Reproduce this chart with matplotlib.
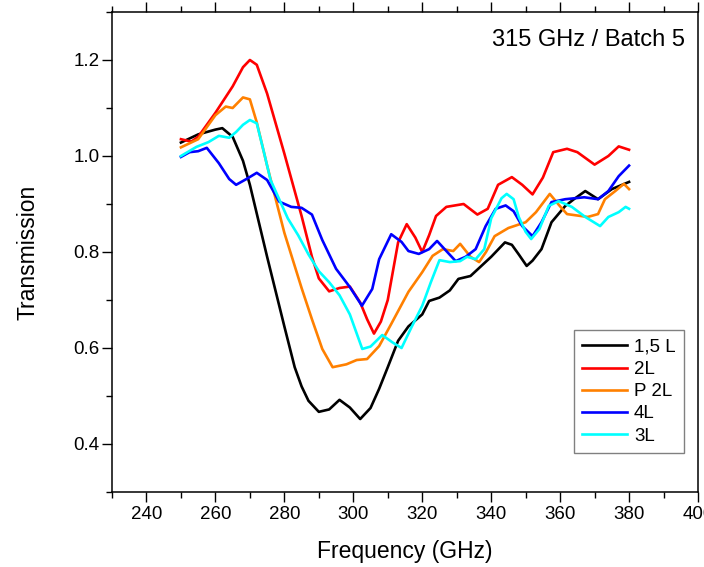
import numpy as np
import matplotlib
matplotlib.use('Agg')
import matplotlib.pyplot as plt
from matplotlib.ticker import MultipleLocator

plt.rcParams['font.family'] = ['Liberation Sans', 'DejaVu Sans']

# 1,5 L
f_15L = [250, 255, 260, 262, 265, 268, 270, 275, 280, 283, 285, 287, 290, 293, 296, 299, 302, 305,
         307.5, 310, 313, 316, 320, 322, 325, 328, 330.5, 334, 337, 340, 344, 346, 348, 350.3,
         352, 354.6, 357.5, 361.5, 364, 367.3, 371, 375, 378, 380]
t_15L = [1.028, 1.045, 1.055, 1.058, 1.040, 0.99, 0.94, 0.79, 0.645, 0.56, 0.52, 0.49, 0.467, 0.472,
         0.492, 0.476, 0.452, 0.475, 0.515, 0.56, 0.615, 0.645, 0.67, 0.698, 0.705, 0.72, 0.744,
         0.75, 0.77, 0.79, 0.82, 0.815, 0.795, 0.771, 0.782, 0.806, 0.862, 0.896, 0.91, 0.927,
         0.91, 0.931, 0.94, 0.946]

# 2L
f_2L = [250, 253, 255, 260, 265, 268, 270, 272, 275, 280, 285, 288, 290, 293, 296, 299, 302, 304,
        306, 308, 310, 313, 315.5, 318, 320, 322, 324, 327, 332, 336, 339, 342, 346, 349, 352,
        355, 358, 362, 365, 370, 374, 377, 380]
t_2L = [1.035, 1.03, 1.04, 1.09, 1.145, 1.185, 1.20, 1.19, 1.13, 1.005, 0.875, 0.79, 0.745, 0.718,
        0.725, 0.728, 0.695, 0.66, 0.63, 0.655, 0.70, 0.82, 0.858, 0.83, 0.80, 0.835, 0.875,
        0.894, 0.90, 0.878, 0.89, 0.94, 0.956, 0.94, 0.92, 0.955, 1.008, 1.015, 1.008, 0.982,
        1.0, 1.02, 1.013]

# P 2L
f_P2L = [250, 255, 260, 263, 265, 268, 270, 272, 275, 280, 285, 288, 291, 294, 298, 301, 304, 307.5,
         311, 316, 320, 323, 326, 329, 331, 334, 336.5, 338.5, 341, 345, 350, 353, 357, 360, 362,
         368, 371, 373, 376, 378.5, 380]
t_P2L = [1.018, 1.035, 1.085, 1.103, 1.10, 1.122, 1.118, 1.07, 0.98, 0.84, 0.725, 0.66, 0.598, 0.56,
         0.566, 0.575, 0.577, 0.604, 0.65, 0.717, 0.758, 0.792, 0.806, 0.802, 0.817, 0.79, 0.779,
         0.80, 0.833, 0.85, 0.862, 0.883, 0.921, 0.895, 0.879, 0.873, 0.879, 0.91, 0.927, 0.942,
         0.931]

# 4L
f_4L = [250, 252.5, 255, 257.5, 261, 264, 266, 269, 272, 275, 278.5, 282, 285, 288, 291, 295, 299,
        302.5, 305.5, 307.5, 311, 314, 316, 319, 322, 324.3, 327, 329.7, 332.6, 335.5, 338.4,
        341.3, 344.2, 346.5, 349, 352, 354.6, 357.5, 361.5, 367, 371, 374, 377, 380]
t_4L = [0.998, 1.008, 1.01, 1.017, 0.985, 0.952, 0.94, 0.952, 0.965, 0.95, 0.905, 0.894, 0.892,
        0.878, 0.825, 0.765, 0.727, 0.688, 0.723, 0.785, 0.837, 0.821, 0.802, 0.796, 0.806, 0.823,
        0.802, 0.781, 0.79, 0.806, 0.854, 0.89, 0.897, 0.885, 0.854, 0.833, 0.862, 0.904, 0.91,
        0.914, 0.91, 0.927, 0.958, 0.98]

# 3L
f_3L = [250, 254.5, 258, 261, 264, 266, 268, 270, 272, 274, 276, 278.5, 281, 284, 287, 290, 293,
        296, 299, 301, 302.6, 305, 308.4, 311.3, 314, 317, 320, 322.5, 325, 328, 331, 333, 335.5,
        338, 340, 343, 344.5, 346.5, 348, 350, 351.6, 354, 356.7, 359.6, 363.4, 367.3, 371.6,
        374, 377, 379, 380]
t_3L = [1.0, 1.019, 1.029, 1.042, 1.038, 1.05, 1.065, 1.075, 1.068, 1.01, 0.95, 0.91, 0.87, 0.835,
        0.795, 0.76, 0.737, 0.71, 0.67, 0.63, 0.598, 0.603, 0.627, 0.612, 0.60, 0.645, 0.688,
        0.737, 0.783, 0.779, 0.781, 0.79, 0.785, 0.806, 0.87, 0.912, 0.921, 0.91, 0.873, 0.842,
        0.827, 0.848, 0.896, 0.906, 0.894, 0.873, 0.854, 0.873, 0.883, 0.894, 0.89]

series = [
    (f_15L, t_15L, '1,5 L', 'black'),
    (f_2L, t_2L, '2L', '#ff0000'),
    (f_P2L, t_P2L, 'P 2L', '#ff8000'),
    (f_4L, t_4L, '4L', '#0000ff'),
    (f_3L, t_3L, '3L', '#00ffff'),
]

fig = plt.figure(figsize=(7.04, 5.67), dpi=100)
ax = fig.add_axes([112 / 704, 1 - 492 / 567, 586 / 704, 480 / 567])

for f, t, name, col in series:
    ax.plot(f, t, color=col, linewidth=1.9, label=name)

ax.set_xlim(230, 400)
ax.set_ylim(0.3, 1.3)
ax.xaxis.set_major_locator(MultipleLocator(20))
ax.xaxis.set_minor_locator(MultipleLocator(10))
ax.yaxis.set_major_locator(MultipleLocator(0.2))
ax.yaxis.set_minor_locator(MultipleLocator(0.1))
ax.yaxis.set_major_formatter(matplotlib.ticker.FormatStrFormatter('%.1f'))

ax.tick_params(which='both', direction='out', top=True, right=False, width=1.0,
               labelsize=13.5, colors='black')
ax.tick_params(which='major', length=7)
ax.tick_params(which='minor', length=4.3)
ax.tick_params(axis='x', pad=3)
ax.tick_params(axis='y', pad=2)
for s in ax.spines.values():
    s.set_linewidth(1.1)

ax.set_xlabel('Frequency (GHz)', fontsize=16.5, labelpad=12)
ax.set_ylabel('Transmission', fontsize=16.5, labelpad=24)

ax.text(0.978, 0.942, '315 GHz / Batch 5', transform=ax.transAxes, ha='right', va='center',
        fontsize=17)

leg = ax.legend(loc='lower right', bbox_to_anchor=(0.976, 0.081), borderaxespad=0,
                fontsize=13.5, handlelength=2.4, handletextpad=0.35, labelspacing=0.27,
                borderpad=0.45, fancybox=False, framealpha=1, edgecolor='#808080')
leg.get_frame().set_linewidth(1.0)

plt.savefig('out.png', dpi=100)
